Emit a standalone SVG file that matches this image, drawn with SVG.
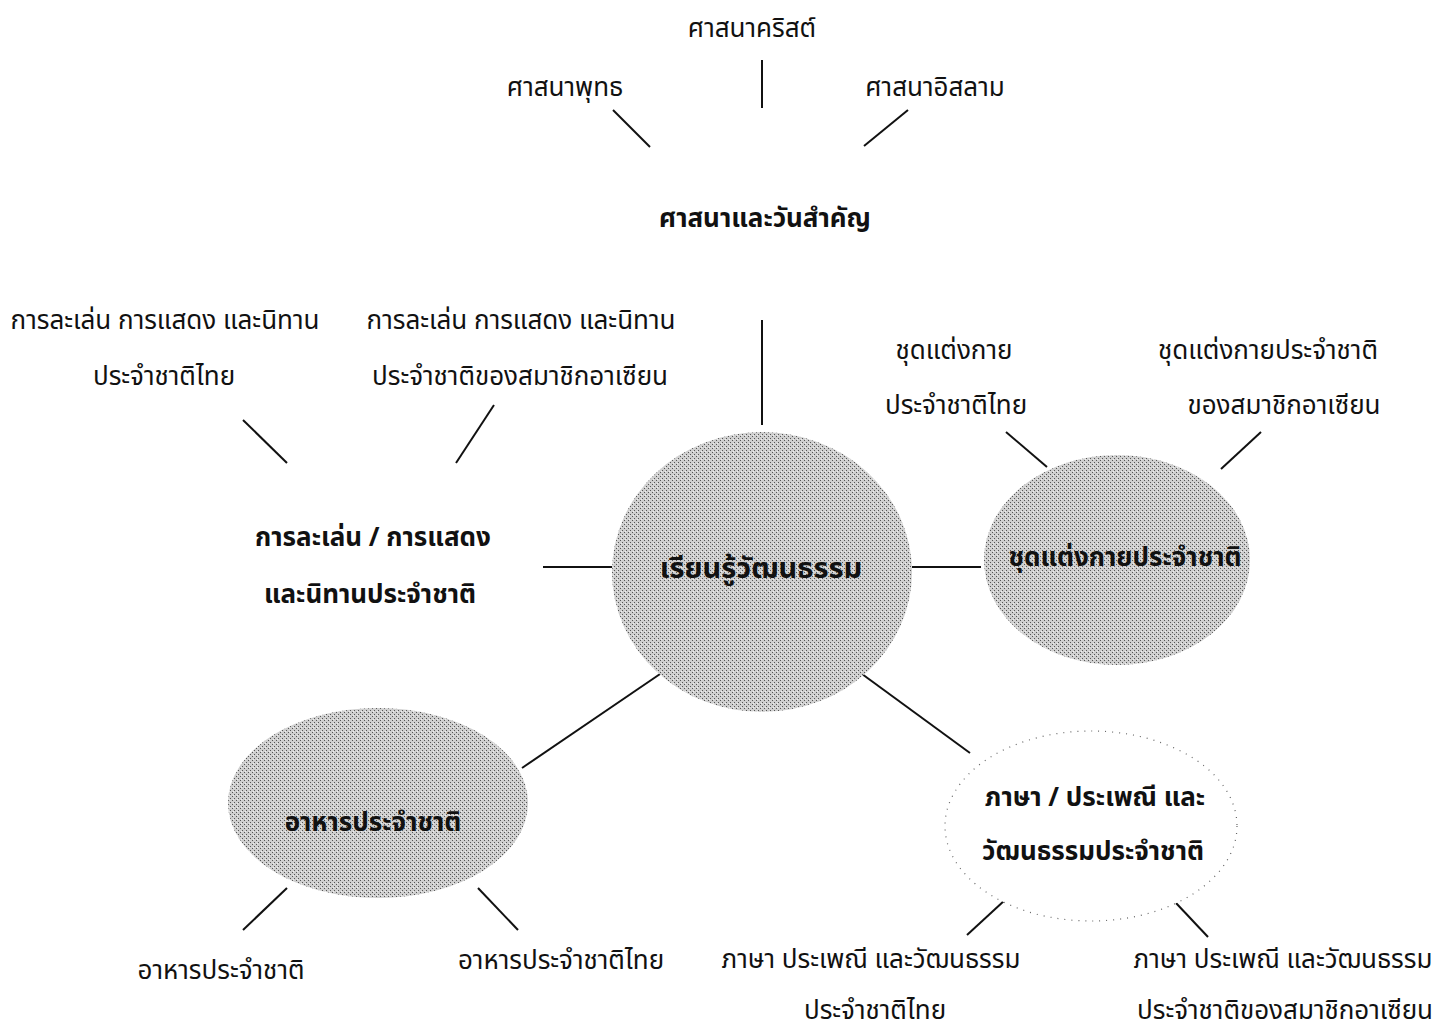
<svg xmlns="http://www.w3.org/2000/svg" width="1449" height="1031" viewBox="0 0 1449 1031">
<style>
.t{font-family:"Noto Sans Thai","Noto Sans","DejaVu Sans",sans-serif;font-size:26px;fill:#111;text-anchor:middle}
.b{font-weight:bold;font-size:26px}
.ln{stroke:#111;stroke-width:2;fill:none}
.fill{fill:url(#stip)}
</style>
<defs>
<pattern id="stip" width="4" height="4" patternUnits="userSpaceOnUse">
<rect width="4" height="4" fill="#cfcfcf"/>
<rect x="0" y="0" width="1" height="1" fill="#555"/>
<rect x="2" y="2" width="1" height="1" fill="#555"/>
<rect x="1" y="3" width="1" height="1" fill="#eee"/>
</pattern>
</defs>
<rect width="1449" height="1031" fill="#fff"/>
<g id="connectors">
<line class="ln" x1="762" y1="320" x2="762" y2="425"/>
<line class="ln" x1="543" y1="567" x2="612" y2="567"/>
<line class="ln" x1="912" y1="567" x2="981" y2="567"/>
<line class="ln" x1="663" y1="672" x2="522" y2="768"/>
<line class="ln" x1="862" y1="674" x2="970" y2="753"/>
<line class="ln" x1="613" y1="110" x2="650" y2="147"/>
<line class="ln" x1="762" y1="60" x2="762" y2="108"/>
<line class="ln" x1="908" y1="110" x2="864" y2="146"/>
<line class="ln" x1="243" y1="420" x2="287" y2="463"/>
<line class="ln" x1="494" y1="405" x2="456" y2="463"/>
<line class="ln" x1="1006" y1="432" x2="1047" y2="467"/>
<line class="ln" x1="1261" y1="432" x2="1221" y2="469"/>
<line class="ln" x1="287" y1="888" x2="243" y2="930"/>
<line class="ln" x1="478" y1="888" x2="518" y2="930"/>
<line class="ln" x1="1005" y1="900" x2="967" y2="935"/>
<line class="ln" x1="1176" y1="903" x2="1208" y2="937"/>
</g>
<g id="center">
<ellipse class="fill" cx="762" cy="572" rx="150" ry="140"/>
<text class="t b" x="761" y="578" style="font-size:29px">เรียนรู้วัฒนธรรม</text>
</g>
<g id="religion">
<text class="t b" x="765" y="227">ศาสนาและวันสำคัญ</text>
</g>
<g id="buddhism"><text class="t" x="565" y="96">ศาสนาพุทธ</text></g>
<g id="christianity"><text class="t" x="752" y="37">ศาสนาคริสต์</text></g>
<g id="islam"><text class="t" x="935" y="96">ศาสนาอิสลาม</text></g>
<g id="performance">
<text class="t b" x="373" y="546">การละเล่น / การแสดง</text>
<text class="t b" x="370" y="603">และนิทานประจำชาติ</text>
</g>
<g id="performance-thai">
<text class="t" x="165" y="329">การละเล่น การแสดง และนิทาน</text>
<text class="t" x="164" y="385">ประจำชาติไทย</text>
</g>
<g id="performance-asean">
<text class="t" x="521" y="329">การละเล่น การแสดง และนิทาน</text>
<text class="t" x="520" y="385">ประจำชาติของสมาชิกอาเซียน</text>
</g>
<g id="costume">
<ellipse class="fill" cx="1117" cy="560" rx="133" ry="105"/>
<text class="t b" x="1125" y="566">ชุดแต่งกายประจำชาติ</text>
</g>
<g id="costume-thai">
<text class="t" x="954" y="359">ชุดแต่งกาย</text>
<text class="t" x="956" y="414">ประจำชาติไทย</text>
</g>
<g id="costume-asean">
<text class="t" x="1268" y="359">ชุดแต่งกายประจำชาติ</text>
<text class="t" x="1284" y="414">ของสมาชิกอาเซียน</text>
</g>
<g id="food">
<ellipse class="fill" cx="378" cy="803" rx="150" ry="95"/>
<text class="t b" x="373" y="831">อาหารประจำชาติ</text>
</g>
<g id="food-general"><text class="t" x="221" y="979">อาหารประจำชาติ</text></g>
<g id="food-thai"><text class="t" x="561" y="969">อาหารประจำชาติไทย</text></g>
<g id="language">
<ellipse cx="1091" cy="826" rx="146" ry="95" fill="#fff" stroke="#666" stroke-width="1.2" stroke-dasharray="1 6"/>
<text class="t b" x="1095" y="806">ภาษา / ประเพณี และ</text>
<text class="t b" x="1093" y="860">วัฒนธรรมประจำชาติ</text>
</g>
<g id="language-thai">
<text class="t" x="871" y="968">ภาษา ประเพณี และวัฒนธรรม</text>
<text class="t" x="875" y="1019">ประจำชาติไทย</text>
</g>
<g id="language-asean">
<text class="t" x="1283" y="968">ภาษา ประเพณี และวัฒนธรรม</text>
<text class="t" x="1285" y="1019">ประจำชาติของสมาชิกอาเซียน</text>
</g>
</svg>
